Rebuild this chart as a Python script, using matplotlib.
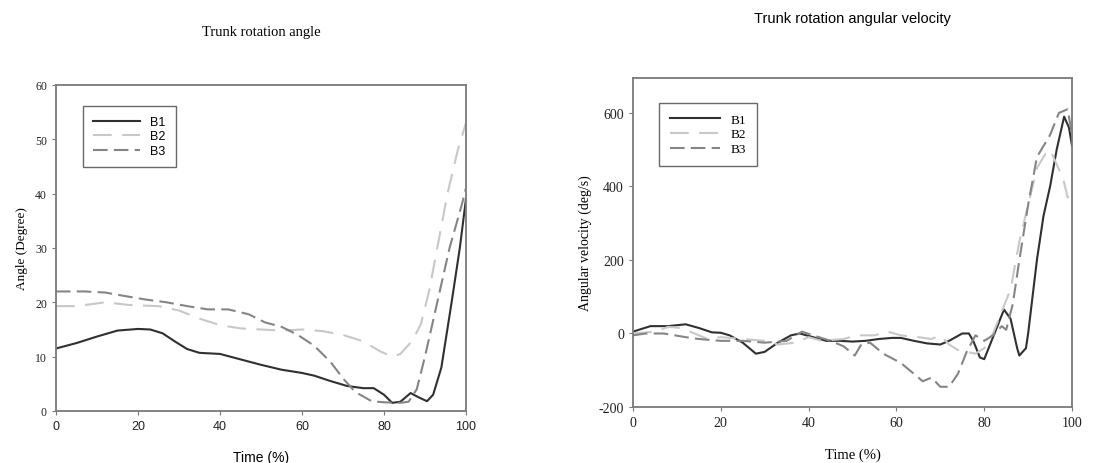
import numpy as np
import matplotlib.pyplot as plt

plt.rcParams["axes.unicode_minus"] = False

# angle data (Time %, degree)
t1 = [0, 5, 10, 15, 20, 23, 26, 29, 32, 35, 40, 45, 50, 55, 60, 63, 67, 71, 75, 77.5, 80, 82, 84, 86.5, 88.5, 90.5, 92, 94, 96.5, 98.5, 100]
ang_b1 = [11.5, 12.5, 13.7, 14.8, 15.1, 15.0, 14.3, 12.8, 11.4, 10.7, 10.5, 9.5, 8.5, 7.6, 7.0, 6.5, 5.5, 4.6, 4.2, 4.2, 3.0, 1.5, 1.7, 3.3, 2.5, 1.8, 3.0, 8.0, 20.0, 30.0, 39.0]
t2 = [0, 5, 12, 18, 25, 30, 35, 40, 45, 50, 55, 60, 65, 70, 75, 79, 82, 84, 87, 89, 91, 93, 95.5, 98, 100]
ang_b2 = [19.3, 19.3, 20.0, 19.5, 19.3, 18.5, 17.0, 15.8, 15.2, 15.0, 14.8, 15.0, 14.7, 14.0, 12.8, 11.0, 10.0, 10.5, 13.0, 16.0, 22.0, 30.0, 40.0, 48.0, 53.0]
t3 = [0, 7, 12, 18, 22, 27, 32, 37, 42, 47, 51, 55, 59, 63, 67, 70, 73, 77, 80, 84, 86, 88, 90, 93, 96, 99, 100]
ang_b3 = [22.0, 22.0, 21.8, 21.0, 20.5, 20.0, 19.3, 18.7, 18.7, 17.8, 16.3, 15.5, 14.0, 12.0, 9.0, 6.0, 3.5, 1.8, 1.6, 1.5, 1.7, 4.0, 10.0, 20.0, 30.0, 38.0, 41.0]

# angular velocity data (Time %, deg/s)
v1_t = [0, 4, 8, 12, 15, 18, 20, 22, 25, 28, 30, 33, 36, 38, 41, 44, 47, 50, 53, 56, 59, 61, 64, 67, 70, 72, 75, 76.5, 77.5, 79, 80, 81, 83, 84.5, 86, 87.5, 88, 89.5, 90, 91, 92, 93.5, 95, 96.5, 98.2, 99.3, 100]
vel_b1 = [5, 20, 20, 25, 15, 3, 2, -5, -25, -55, -50, -25, -5, 0, -10, -20, -20, -22, -20, -15, -12, -12, -20, -27, -30, -20, 0, 0, -20, -65, -70, -40, 20, 65, 40, -40, -60, -40, 0, 100, 200, 320, 400, 500, 590, 560, 510]
v2_t = [0, 5, 8, 11, 14, 17, 20, 25, 30, 33, 37, 40, 43, 48, 51, 55, 58, 61, 65, 68, 70, 72, 74, 76, 78, 80, 82, 84, 86, 88, 90, 92, 94, 95, 96.5, 98, 99, 100]
vel_b2 = [0, 5, 18, 15, 0, -15, -10, -15, -20, -30, -25, -10, -20, -15, -5, -5, 5, -5, -10, -15, -5, -30, -45, -50, -55, -40, 0, 60, 120, 250, 350, 450, 490, 500, 460, 420, 370, 390]
v3_t = [0, 3, 7, 12, 15, 20, 25, 30, 35, 38.5, 41, 45, 48, 50.5, 52, 54, 57, 61, 64, 66, 68, 70, 72, 74, 76, 78, 80, 82, 84, 85, 86.5, 88, 90, 92, 93.5, 95, 97, 99, 100]
vel_b3 = [-5, 0, 0, -10, -15, -20, -20, -25, -20, 5, -5, -20, -35, -60, -30, -25, -55, -80, -110, -130, -120, -145, -145, -110, -50, -5, -20, -5, 20, 10, 80, 200, 350, 480, 510, 540, 600, 610, 540]

serif = ["Liberation Serif", "DejaVu Serif"]
sans = ["Liberation Sans", "DejaVu Sans"]

c1, c2, c3 = "#303030", "#c8c8c8", "#858585"
spine_c = "#7a7a7a"

fig = plt.figure(figsize=(11.06, 4.64), dpi=100)
ax1 = fig.add_axes([0.0506, 0.1121, 0.3707, 0.7026])
ax2 = fig.add_axes([0.5723, 0.1207, 0.3970, 0.7090])

# left panel
ax1.plot(t1, ang_b1, color=c1, lw=1.5, label="B1")
ax1.plot(t2, ang_b2, color=c2, lw=1.5, dashes=(9, 5), label="B2")
ax1.plot(t3, ang_b3, color=c3, lw=1.5, dashes=(7, 3), label="B3")
ax1.set_xlim(0, 100)
ax1.set_ylim(0, 60)
ax1.set_xticks([0, 20, 40, 60, 80, 100])
ax1.set_yticks([0, 10, 20, 30, 40, 50, 60])
for lb in ax1.get_xticklabels():
    lb.set_fontfamily(sans)
    lb.set_fontsize(9)
for lb in ax1.get_yticklabels():
    lb.set_fontfamily(serif)
    lb.set_fontsize(8.5)
ax1.tick_params(length=3, color=spine_c, labelcolor="#222222")
ax1.set_xlabel("Time (%)", family=sans, fontsize=10, labelpad=13)
ax1.set_ylabel("Angle (Degree)", family=serif, fontsize=9.5, labelpad=5)
ax1.set_title("Trunk rotation angle", family=serif, fontsize=10.5, pad=36)
leg1 = ax1.legend(loc="upper left", bbox_to_anchor=(0.05, 0.955), fancybox=False,
                  edgecolor="#444444", prop={"family": sans, "size": 9},
                  handlelength=3.8, labelspacing=0.2, borderpad=0.8)
leg1.get_frame().set_linewidth(1.0)

# right panel
ax2.plot(v1_t, vel_b1, color=c1, lw=1.5, label="B1")
ax2.plot(v2_t, vel_b2, color=c2, lw=1.5, dashes=(9, 5), label="B2")
ax2.plot(v3_t, vel_b3, color=c3, lw=1.5, dashes=(7, 3), label="B3")
ax2.set_xlim(0, 100)
ax2.set_ylim(-200, 695)
ax2.set_xticks([0, 20, 40, 60, 80, 100])
ax2.set_yticks([-200, 0, 200, 400, 600])
for lb in ax2.get_xticklabels() + ax2.get_yticklabels():
    lb.set_fontfamily(serif)
    lb.set_fontsize(10)
ax2.tick_params(length=3, color=spine_c, labelcolor="#222222")
ax2.set_xlabel("Time (%)", family=serif, fontsize=10.5, labelpad=13)
ax2.set_ylabel("Angular velocity (deg/s)", family=serif, fontsize=10, labelpad=5)
ax2.set_title("Trunk rotation angular velocity", family=sans, fontsize=10.5, pad=40)
leg2 = ax2.legend(loc="upper left", bbox_to_anchor=(0.045, 0.945), fancybox=False,
                  edgecolor="#444444", prop={"family": serif, "size": 9.5},
                  handlelength=3.8, labelspacing=0.2, borderpad=0.8)
leg2.get_frame().set_linewidth(1.0)

for ax in (ax1, ax2):
    for s in ax.spines.values():
        s.set_color(spine_c)
        s.set_linewidth(1.3)

plt.savefig("out.png", dpi=100)
